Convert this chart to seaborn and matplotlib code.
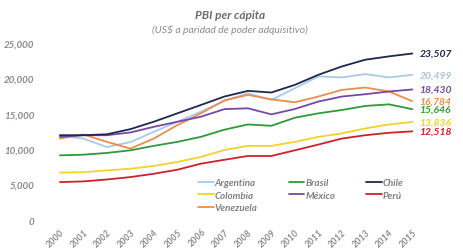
import numpy as np
import pandas as pd
import matplotlib
matplotlib.use("Agg")
import matplotlib.pyplot as plt
import seaborn as sns

years = list(range(2000, 2016))
argentina = [11900, 11500, 10300, 11000, 12450, 13870, 15290, 16800, 17900, 16950, 18600, 20270, 20130, 20600, 20130, 20499]
brasil = [9130, 9220, 9470, 9840, 10470, 11030, 11740, 12750, 13490, 13300, 14440, 15060, 15530, 16100, 16330, 15646]
chile = [11970, 11970, 12100, 12830, 13880, 15060, 16240, 17430, 18230, 18000, 19080, 20500, 21680, 22630, 23100, 23507]
colombia = [6680, 6750, 7000, 7240, 7630, 8200, 8900, 9880, 10470, 10470, 11030, 11740, 12220, 12930, 13490, 13836]
mexico = [11740, 11970, 11970, 12360, 13160, 13870, 14580, 15650, 15770, 14915, 15670, 16720, 17430, 17760, 18140, 18430]
peru = [5350, 5450, 5720, 6060, 6530, 7100, 7950, 8500, 9040, 9040, 9840, 10650, 11500, 11970, 12310, 12518]
venezuela = [11500, 12070, 11030, 10085, 11500, 13400, 15060, 16900, 17660, 17040, 16620, 17430, 18370, 18700, 18140, 16784]

series = {
    "Argentina": argentina, "Brasil": brasil, "Chile": chile, "Colombia": colombia,
    "México": mexico, "Perú": peru, "Venezuela": venezuela,
}
colors = {
    "Argentina": "#a9cbe6", "Brasil": "#2f9a3a", "Chile": "#1e2850",
    "Colombia": "#f2d22e", "México": "#7449a8", "Perú": "#d0202a",
    "Venezuela": "#ea8d4f",
}
label_colors = dict(colors)
label_colors["Argentina"] = "#a9c4d8"

rows = []
for name, vals in series.items():
    for i, v in enumerate(vals):
        rows.append({"idx": i, "year": years[i], "pais": name, "valor": v})
df = pd.DataFrame(rows)

sns.set_style("white")
plt.rcParams["font.family"] = ["Lato", "DejaVu Sans"]

fig = plt.figure(figsize=(4.63, 2.51), dpi=100)
ax = fig.add_axes([0.1015, 0.1195, 0.8205, 0.7055])

order = ["Argentina", "Colombia", "Venezuela", "Brasil", "México", "Chile", "Perú"]
sns.lineplot(data=df, x="idx", y="valor", hue="pais", hue_order=order,
             palette=colors, linewidth=1.3, ax=ax, legend=True)

ax.set_xlim(-0.55, 15.62)
ax.set_ylim(0, 25000)
ax.set_xticks(range(len(years)))
ax.set_xticklabels([str(y) for y in years], rotation=45, ha="right",
                   rotation_mode="anchor", fontsize=6.5, style="italic",
                   weight="bold", color="#8a8a8a")
ax.set_yticks([0, 5000, 10000, 15000, 20000, 25000])
ax.set_yticklabels([f"{v:,}" for v in [0, 5000, 10000, 15000, 20000, 25000]],
                   fontsize=7, style="italic", weight="bold", color="#8a8a8a")
ax.tick_params(axis="both", length=0)
ax.tick_params(axis="y", pad=9)
ax.tick_params(axis="x", pad=5)
ax.set_xlabel("")
ax.set_ylabel("")
for s in ax.spines.values():
    s.set_visible(False)
ax.axhline(0, color="#e6e6e6", linewidth=0.8, zorder=0)

# end labels
for name, vals in series.items():
    ax.text(15.3, vals[-1], f"{vals[-1]:,}", color=label_colors[name], fontsize=7.5,
            style="italic", weight="bold", va="center", ha="left", clip_on=False)

leg = ax.legend(ncol=3, loc="upper left", bbox_to_anchor=(0.375, 0.285),
                frameon=False, fontsize=7, handlelength=1.6, handletextpad=0.1,
                columnspacing=3.2, labelspacing=0.35)
for t in leg.get_texts():
    t.set_color("#808080")
    t.set_style("italic")
    t.set_weight("bold")

fig.text(0.497, 0.94, "PBI per cápita", ha="center", va="center", fontsize=8.5,
         style="italic", weight="bold", color="#6b6b6b")
fig.text(0.497, 0.88, "(US\\$ a paridad de poder adquisitivo)", ha="center", va="center",
         fontsize=7.5, style="italic", color="#8c8c8c")

fig.savefig("out.png", dpi=100)
